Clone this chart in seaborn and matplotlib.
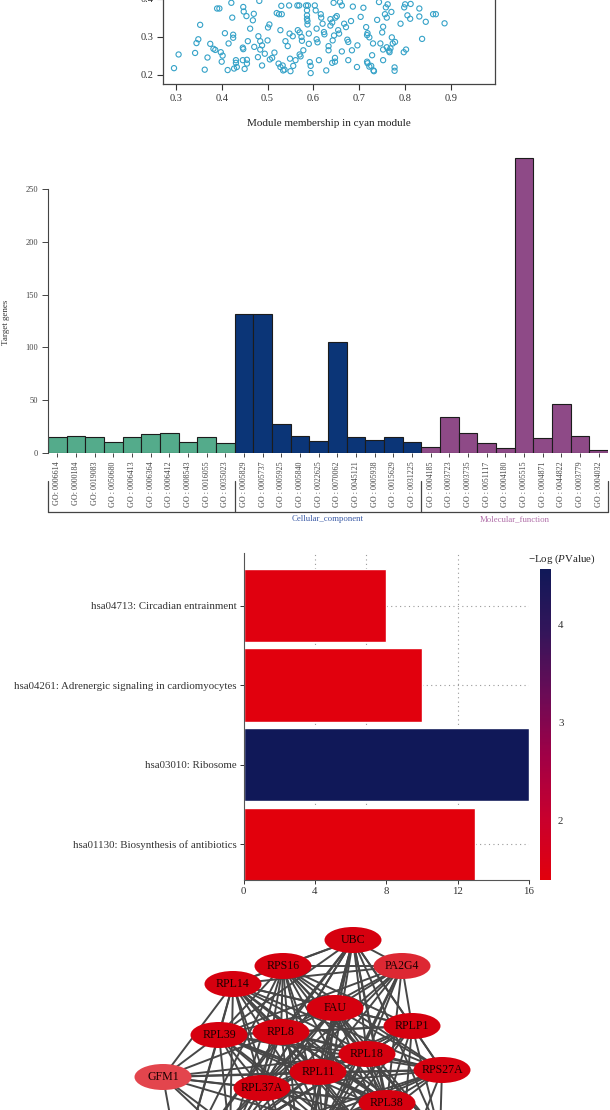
import itertools
import matplotlib
matplotlib.use("Agg")
import matplotlib.pyplot as plt
import seaborn as sns
from matplotlib.patches import Ellipse
from matplotlib.colors import LinearSegmentedColormap, Normalize
from matplotlib.cm import ScalarMappable

# ---------------- data ----------------
# Panel 1: module membership vs gene significance (visible part only)
module_membership = [
    0.296, 0.306, 0.342, 0.345, 0.349, 0.353, 0.363, 0.369, 0.375, 0.382, 0.386, 0.390, 0.395, 0.398,
    0.400, 0.402, 0.407, 0.413, 0.415, 0.421, 0.425, 0.425, 0.423, 0.427, 0.431, 0.431, 0.433, 0.447,
    0.448, 0.446, 0.447, 0.446, 0.450, 0.455, 0.455, 0.454, 0.457, 0.462, 0.468, 0.470, 0.471, 0.480,
    0.484, 0.488, 0.484, 0.482, 0.479, 0.488, 0.494, 0.500, 0.501, 0.504, 0.510, 0.505, 0.515, 0.520,
    0.525, 0.530, 0.531, 0.524, 0.528, 0.533, 0.534, 0.537, 0.528, 0.539, 0.544, 0.547, 0.548, 0.549,
    0.550, 0.555, 0.556, 0.561, 0.565, 0.569, 0.566, 0.570, 0.570, 0.572, 0.575, 0.574, 0.578, 0.584,
    0.588, 0.586, 0.586, 0.586, 0.587, 0.587, 0.590, 0.590, 0.592, 0.594, 0.594, 0.603, 0.605, 0.607,
    0.607, 0.609, 0.612, 0.616, 0.617, 0.620, 0.623, 0.624, 0.628, 0.633, 0.633, 0.637, 0.641, 0.637,
    0.641, 0.644, 0.645, 0.642, 0.647, 0.647, 0.651, 0.648, 0.654, 0.656, 0.658, 0.662, 0.662, 0.667,
    0.671, 0.674, 0.676, 0.676, 0.682, 0.684, 0.686, 0.695, 0.696, 0.703, 0.709, 0.715, 0.717, 0.718,
    0.717, 0.722, 0.722, 0.726, 0.718, 0.728, 0.730, 0.731, 0.732, 0.739, 0.743, 0.746, 0.752, 0.750,
    0.752, 0.752, 0.756, 0.760, 0.758, 0.762, 0.760, 0.765, 0.766, 0.768, 0.770, 0.771, 0.773, 0.777,
    0.777, 0.778, 0.790, 0.798, 0.800, 0.797, 0.805, 0.811, 0.802, 0.812, 0.831, 0.831, 0.837, 0.845,
    0.861, 0.867, 0.886,
]
gene_significance = [
    0.218, 0.254, 0.258, 0.284, 0.294, 0.332, 0.214, 0.246, 0.282, 0.269, 0.266, 0.375, 0.375, 0.260,
    0.235, 0.251, 0.310, 0.213, 0.283, 0.390, 0.298, 0.306, 0.351, 0.217, 0.232, 0.239, 0.221, 0.379,
    0.367, 0.272, 0.268, 0.239, 0.216, 0.230, 0.240, 0.355, 0.289, 0.322, 0.344, 0.361, 0.274, 0.302,
    0.289, 0.278, 0.267, 0.395, 0.247, 0.225, 0.256, 0.291, 0.325, 0.333, 0.245, 0.241, 0.259, 0.363,
    0.360, 0.382, 0.360, 0.230, 0.221, 0.225, 0.212, 0.214, 0.318, 0.289, 0.276, 0.383, 0.309, 0.243,
    0.210, 0.302, 0.224, 0.239, 0.383, 0.383, 0.318, 0.312, 0.254, 0.249, 0.290, 0.300, 0.265, 0.383,
    0.383, 0.370, 0.357, 0.348, 0.342, 0.333, 0.309, 0.282, 0.234, 0.224, 0.205, 0.383, 0.370, 0.322,
    0.294, 0.286, 0.239, 0.360, 0.351, 0.335, 0.313, 0.307, 0.212, 0.276, 0.265, 0.347, 0.338, 0.330,
    0.232, 0.390, 0.304, 0.291, 0.245, 0.235, 0.355, 0.351, 0.318, 0.309, 0.392, 0.383, 0.262, 0.335,
    0.326, 0.293, 0.287, 0.239, 0.342, 0.265, 0.380, 0.221, 0.278, 0.353, 0.377, 0.326, 0.235, 0.231,
    0.305, 0.299, 0.222, 0.224, 0.310, 0.252, 0.283, 0.212, 0.210, 0.345, 0.392, 0.283, 0.267, 0.312,
    0.327, 0.239, 0.360, 0.351, 0.378, 0.386, 0.273, 0.264, 0.260, 0.270, 0.366, 0.299, 0.283, 0.220,
    0.211, 0.287, 0.335, 0.378, 0.386, 0.260, 0.357, 0.348, 0.267, 0.387, 0.375, 0.354, 0.295, 0.340,
    0.360, 0.360, 0.336,
]
scatter_xticks = [0.3, 0.4, 0.5, 0.6, 0.7, 0.8, 0.9]
scatter_yticks = [0.2, 0.3, 0.4]

# Panel 2: GO enrichment
go_terms = [
    "GO: 0006614", "GO: 0000184", "GO: 0019083", "GO : 0050680", "GO : 0006413",
    "GO : 0006364", "GO : 0006412", "GO : 0008543", "GO : 0016055", "GO : 0035023",
    "GO : 0005829", "GO : 0005737", "GO : 0005925", "GO : 0005840", "GO : 0022625",
    "GO : 0070062", "GO : 0045121", "GO : 0005938", "GO : 0015629", "GO : 0031225",
    "GO : 0004185", "GO : 0003723", "GO : 0003735", "GO : 0051117", "GO : 0004180",
    "GO : 0005515", "GO : 0004871", "GO : 0044822", "GO : 0003779", "GO : 0004032",
]
go_counts = [15, 16, 15, 10, 15, 18, 19, 10, 15, 9,
             132, 132, 27, 16, 11, 105, 15, 12, 15, 10,
             6, 34, 19, 9, 5, 279, 14, 46, 16, 3]
go_category = (["Biological_process"] * 10 + ["Cellular_component"] * 10
               + ["Molecular_function"] * 10)
go_yticks = [0, 50, 100, 150, 200, 250]

# Panel 3: KEGG pathways
kegg_terms = ["hsa04713: Circadian entrainment",
              "hsa04261: Adrenergic signaling in cardiomyocytes",
              "hsa03010: Ribosome",
              "hsa01130: Biosynthesis of antibiotics"]
kegg_counts = [8, 10, 16, 13]
kegg_neglogp = [1.44, 1.42, 4.57, 1.39]
kegg_xticks = [0, 4, 8, 12, 16]
kegg_cbar_ticks = [2, 3, 4]

# Panel 4: PPI network (layout coordinates)
node_names = ["UBC", "PA2G4", "RPS16", "RPL14", "FAU", "RPL39", "RPL8", "RPLP1", "RPL18",
              "RPS27A", "GFM1", "RPL11", "RPL37A", "RPL38",
              "RPS29", "RPL23A", "RPS20", "RPL35A", "RPS15A", "RPL36"]
node_x = [353, 402, 283, 233, 335, 219, 281, 412, 367, 442, 163, 318, 262, 387,
          323, 230, 440, 180, 300, 400]
node_y = [940, 966, 966, 984, 1008, 1035, 1032, 1026, 1054, 1070, 1077, 1072, 1088, 1103,
          1124, 1140, 1135, 1170, 1180, 1175]
node_degree_level = [1, 0.8, 1, 1, 1, 1, 1, 1, 1, 1, 0.65, 1, 1, 1, 1, 1, 1, 1, 1, 1]
ribosomal_clique = ["UBC", "RPS16", "RPL14", "FAU", "RPL39", "RPL8", "RPLP1", "RPL18", "RPS27A",
                    "RPL11", "RPL37A", "RPL38", "RPS29", "RPL23A", "RPS20", "RPL35A", "RPS15A",
                    "RPL36"]
gfm1_links = ["RPL14", "RPL39", "RPL8", "RPL11", "RPL18", "RPS27A", "RPL37A", "RPL38",
              "RPS29", "RPL23A", "RPL35A", "RPS15A"]
pa2g4_links = ["UBC", "RPS16", "RPL14", "FAU", "RPL39", "RPL8", "RPLP1", "RPL18", "RPL11",
               "RPL37A", "RPL38", "RPS29", "RPL23A", "RPS15A"]

# ---------------- style ----------------
sns.set_theme(style="ticks")
plt.rcParams["font.family"] = ["Liberation Serif", "DejaVu Serif"]
plt.rcParams["mathtext.fontset"] = "custom"
plt.rcParams["mathtext.rm"] = "Liberation Serif"
plt.rcParams["mathtext.it"] = "Liberation Serif:italic"

W, H = 610, 1110
fig = plt.figure(figsize=(W / 100, H / 100), dpi=100)
fig.patch.set_facecolor("white")


def px_axes(left, top, right, bottom):
    return fig.add_axes([left / W, 1 - bottom / H, (right - left) / W, (bottom - top) / H])


# ---------------- panel 1: scatter ----------------
ax1 = px_axes(163, -39, 495, 84)
sns.scatterplot(x=module_membership, y=gene_significance, ax=ax1, s=14, color="#35A2C8",
                linewidth=0.8)
coll = ax1.collections[0]
coll.set_facecolor("none")
coll.set_edgecolor("#35A2C8")
ax1.set_xlim(0.272, 0.996)
ax1.set_ylim(0.1763, 0.5)
ax1.set_xticks(scatter_xticks)
ax1.set_yticks(scatter_yticks)
ax1.tick_params(labelsize=7.5, length=4, width=0.8, colors="#333333", pad=3)
for s in ax1.spines.values():
    s.set_color("#444444")
    s.set_linewidth(0.9)
ax1.set_xlabel("Module membership in cyan module", fontsize=8, color="#222222")
ax1.xaxis.set_label_coords(0.5, -39 / 123)
ax1.xaxis.label.set_va("center")

# ---------------- panel 2: GO bars ----------------
ax2 = px_axes(48, 146.8, 608, 453)
go_palette = {"Biological_process": "#54AB8B", "Cellular_component": "#0B3577",
              "Molecular_function": "#8E4A87"}
sns.barplot(x=go_terms, y=go_counts, hue=go_category, palette=go_palette, dodge=False,
            width=1.0, saturation=1, edgecolor="#1c1c1c", linewidth=0.8, legend=False,
            ax=ax2)
ax2.set_xlim(-0.5, len(go_terms) - 0.5)
ax2.set_ylim(0, 290)
ax2.set_yticks(go_yticks)
ax2.spines["left"].set_bounds(0, 250)
for side in ["top", "right", "bottom"]:
    ax2.spines[side].set_visible(False)
ax2.spines["left"].set_color("#444444")
ax2.spines["left"].set_linewidth(0.8)
ax2.tick_params(axis="y", labelsize=6, length=4, width=0.7, colors="#444444", pad=3)
ax2.set_xticks(range(len(go_terms)))
ax2.set_xticklabels(go_terms, rotation=90, fontsize=5.8, color="#444444")
ax2.tick_params(axis="x", length=3, width=0.7, colors="#444444", pad=3)
ax2.set_xlabel("")
ax2.set_ylabel("Target genes", fontsize=6.5, color="#333333")
ax2.yaxis.set_label_coords(-42 / 560, (453 - 322) / 306.2)
ax2.yaxis.label.set_va("center")

# group brackets beneath the labels
tr = ax2.get_xaxis_transform()
ah = 306.2
y_line = -(512 - 453) / ah
y_top = -(481 - 453) / ah
bounds = [-0.5, 9.5, 19.5, 29.5]
ax2.plot([bounds[0], bounds[-1]], [y_line, y_line], transform=tr, color="#444444", lw=0.9,
         clip_on=False)
for b in bounds:
    ax2.plot([b, b], [y_top, y_line], transform=tr, color="#444444", lw=0.9, clip_on=False)
y_lab = -(519 - 453) / ah
ax2.text(14.5, y_lab, "Cellular_component", transform=tr, ha="center", va="center",
         fontsize=6.3, color="#3A5AA6")
ax2.text(24.5, y_lab, "Molecular_function", transform=tr, ha="center", va="center",
         fontsize=6.3, color="#B06EA8")

# ---------------- panel 3: KEGG bars ----------------
ax3 = px_axes(243.6, 553, 529, 880)
cmap = LinearSegmentedColormap.from_list(
    "rednavy", ["#E2000C", "#C8002E", "#A00046", "#6A0B56", "#33155A", "#101858"])
norm = Normalize(1.385, 4.574)
kegg_colors = {t: cmap(norm(v)) for t, v in zip(kegg_terms, kegg_neglogp)}
for gx in [4, 6.87, 12]:
    ax3.axvline(gx, color="#9a9a9a", lw=0.8, ls=(0, (1, 3)), zorder=0)
for gy in range(len(kegg_terms)):
    ax3.axhline(gy, color="#9a9a9a", lw=0.8, ls=(0, (1, 3)), zorder=0)
sns.barplot(x=kegg_counts, y=kegg_terms, hue=kegg_terms, palette=kegg_colors, orient="h",
            width=0.92, saturation=1, legend=False, ax=ax3, zorder=2)
ax3.set_xlim(0, 16)
ax3.set_ylim(3.45, -0.66)
ax3.set_xticks(kegg_xticks)
ax3.set_xlabel("")
ax3.set_ylabel("")
for side in ["top", "right"]:
    ax3.spines[side].set_visible(False)
for side in ["left", "bottom"]:
    ax3.spines[side].set_color("#555555")
    ax3.spines[side].set_linewidth(0.8)
ax3.tick_params(labelsize=7.8, length=3, width=0.7, colors="#333333", pad=2)

cax = px_axes(540, 569, 551, 880)
cb = fig.colorbar(ScalarMappable(norm=norm, cmap=cmap), cax=cax)
cb.outline.set_visible(False)
cb.set_ticks(kegg_cbar_ticks)
cax.tick_params(length=0, labelsize=7.8, pad=5, colors="#333333")
fig.text(562 / W, 1 - 559 / H, r"$-$Log ($\mathit{P}$Value)", ha="center", va="center",
         fontsize=7.8, color="#222222")

# ---------------- panel 4: network ----------------
ax4 = px_axes(0, 900, 610, 1110)
ax4.set_xlim(0, 610)
ax4.set_ylim(1110, 900)
ax4.axis("off")
pos = {n: (x, y) for n, x, y in zip(node_names, node_x, node_y)}
edges = list(itertools.combinations(ribosomal_clique, 2))
edges += [("GFM1", n) for n in gfm1_links]
edges += [("PA2G4", n) for n in pa2g4_links]
for a, b in edges:
    (x1, y1), (x2, y2) = pos[a], pos[b]
    ax4.plot([x1, x2], [y1, y2], color="#474747", lw=1.4, zorder=1,
             solid_capstyle="round")
node_cmap = LinearSegmentedColormap.from_list("nodes", ["#F08A8C", "#D6000F"])
for n, lvl in zip(node_names, node_degree_level):
    x, y = pos[n]
    ax4.add_patch(Ellipse((x, y), 57, 26, facecolor=node_cmap((lvl - 0.3) / 0.7),
                          edgecolor="none", zorder=3))
    if y < 1110:
        ax4.text(x, y, n, ha="center", va="center", fontsize=8.6, color="#1a0000",
                 zorder=4, clip_on=True)

fig.savefig("out.png", dpi=100, facecolor="white")
